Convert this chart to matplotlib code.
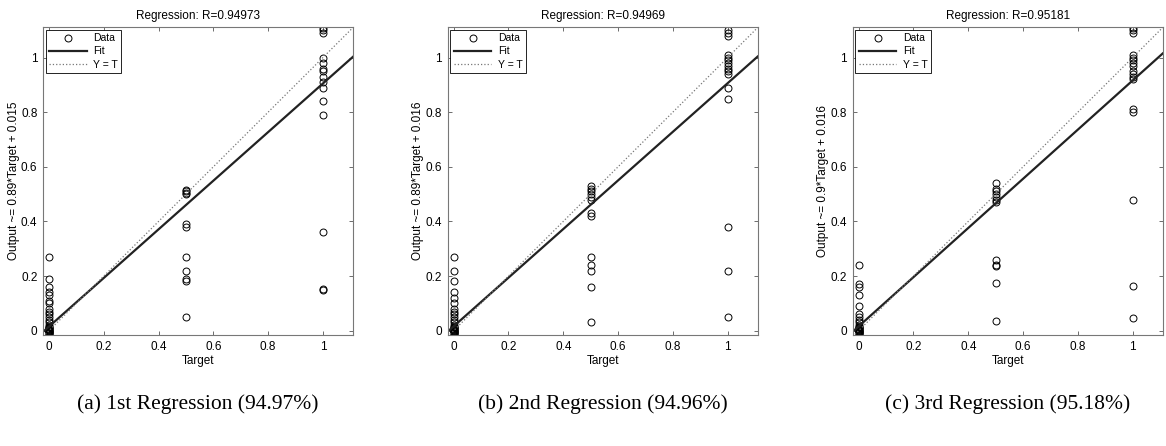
import matplotlib.pyplot as plt
import numpy as np

# --- data (target, output pairs per run) ---
out0_a = [-0.015, -0.012, -0.01, -0.008, -0.006, -0.004, -0.002, 0.0, 0.002, 0.004,
          0.006, 0.008, 0.01, 0.012, 0.015, 0.02, 0.03, 0.04, 0.05, 0.06, 0.07,
          0.08, 0.10, 0.11, 0.13, 0.14, 0.16, 0.19, 0.27]
out5_a = [0.05, 0.18, 0.19, 0.22, 0.27, 0.38, 0.39, 0.50, 0.505, 0.51, 0.515]
out1_a = [0.15, 0.152, 0.36, 0.79, 0.84, 0.89, 0.91, 0.93, 0.95, 0.96, 0.98,
          1.0, 1.09, 1.10, 1.11]

out0_b = [-0.015, -0.012, -0.01, -0.008, -0.006, -0.004, -0.002, 0.0, 0.002, 0.004,
          0.006, 0.008, 0.01, 0.012, 0.015, 0.02, 0.03, 0.04, 0.05, 0.06, 0.07,
          0.08, 0.10, 0.12, 0.14, 0.18, 0.22, 0.27]
out5_b = [0.03, 0.16, 0.22, 0.24, 0.27, 0.42, 0.43, 0.48, 0.49, 0.50, 0.51,
          0.52, 0.53]
out1_b = [0.05, 0.22, 0.38, 0.85, 0.89, 0.94, 0.95, 0.96, 0.97, 0.98, 0.99,
          1.0, 1.01, 1.08, 1.09, 1.10]

out0_c = [-0.015, -0.012, -0.01, -0.008, -0.006, -0.004, -0.002, 0.0, 0.002, 0.004,
          0.006, 0.008, 0.01, 0.012, 0.015, 0.02, 0.03, 0.04, 0.05, 0.06, 0.09,
          0.13, 0.16, 0.17, 0.24]
out5_c = [0.035, 0.175, 0.235, 0.24, 0.26, 0.47, 0.48, 0.49, 0.50, 0.51, 0.52, 0.54]
out1_c = [0.045, 0.165, 0.48, 0.80, 0.81, 0.92, 0.93, 0.94, 0.95, 0.97, 0.98,
          0.99, 1.0, 1.01, 1.09, 1.10, 1.11]

slopes = [0.89, 0.89, 0.9]
intercepts = [0.015, 0.016, 0.016]
r_values = ["0.94973", "0.94969", "0.95181"]
slope_txt = ["0.89", "0.89", "0.9"]
captions = ["(a) 1st Regression (94.97%)", "(b) 2nd Regression (94.96%)",
            "(c) 3rd Regression (95.18%)"]
outputs = [(out0_a, out5_a, out1_a), (out0_b, out5_b, out1_b), (out0_c, out5_c, out1_c)]

plt.rcParams["font.family"] = ["Liberation Sans", "DejaVu Sans"]

fig = plt.figure(figsize=(11.66, 4.46), dpi=100)
lefts = [43 / 1166, 447.7 / 1166, 852.7 / 1166]
w = 310 / 1166
b = 1 - 335 / 446
h = (335 - 27) / 446

xlim = (-0.022, 1.11)
ylim = (-0.016, 1.112)

for i in range(3):
    ax = fig.add_axes([lefts[i], b, w, h])
    o0, o5, o1 = outputs[i]
    tx = [0.0] * len(o0) + [0.5] * len(o5) + [1.0] * len(o1)
    ty = list(o0) + list(o5) + list(o1)
    ax.plot(tx, ty, "o", mfc="none", mec="k", ms=5, mew=0.7, label="Data")
    xs = np.array(xlim)
    ax.plot(xs, slopes[i] * xs + intercepts[i], "-", color="#222222", lw=1.6,
            label="Fit")
    ax.plot(xs, xs, ":", color="#777777", lw=0.9, label="Y = T")
    ax.set_xlim(xlim)
    ax.set_ylim(ylim)
    ax.set_xticks([0, 0.2, 0.4, 0.6, 0.8, 1])
    ax.set_yticks([0, 0.2, 0.4, 0.6, 0.8, 1])
    ax.set_xticklabels(["0", "0.2", "0.4", "0.6", "0.8", "1"])
    ax.set_yticklabels(["0", "0.2", "0.4", "0.6", "0.8", "1"])
    ax.tick_params(direction="in", top=True, right=True, length=3, width=0.6,
                   labelsize=8.5, color="#555555", pad=4)
    for s in ax.spines.values():
        s.set_color("#777777")
        s.set_linewidth(0.8)
    ax.set_title("Regression: R=" + r_values[i], fontsize=8.5, pad=6)
    ax.set_xlabel("Target", fontsize=8.5, labelpad=2)
    ax.set_ylabel("Output ~= %s*Target + %s" % (slope_txt[i], intercepts[i]),
                  fontsize=8.5, labelpad=1)
    leg = ax.legend(loc="upper left", fontsize=7.5, fancybox=False,
                    edgecolor="k", framealpha=1, borderpad=0.35,
                    handlelength=3.6, labelspacing=0.3, borderaxespad=0.25,
                    handletextpad=0.6)
    leg.get_frame().set_linewidth(0.6)
    fig.text(lefts[i] + w / 2, 1 - 404 / 446, captions[i], ha="center",
             va="center", fontsize=15.5, family="Liberation Serif")

fig.savefig("out.png", dpi=100)
